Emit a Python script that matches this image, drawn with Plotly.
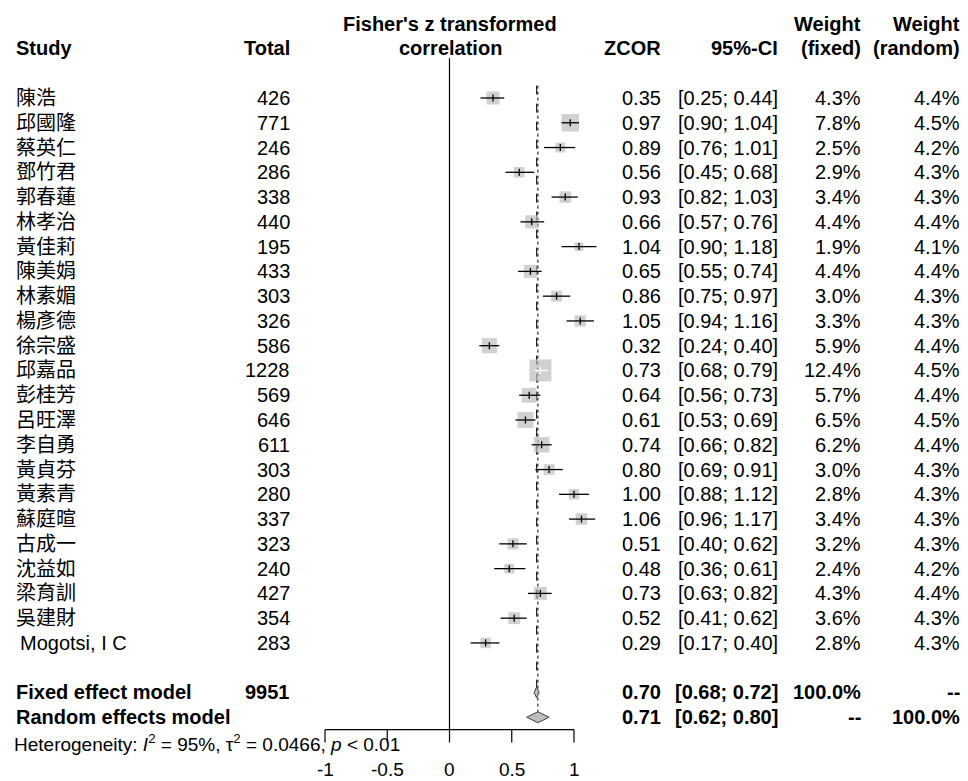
import plotly.graph_objects as go

# ---------------- data ----------------
studies = ["陳浩", "邱國隆", "蔡英仁", "鄧竹君", "郭春蓮", "林孝治", "黃佳莉", "陳美娟",
           "林素媚", "楊彥德", "徐宗盛", "邱嘉品", "彭桂芳", "呂旺澤", "李自勇", "黃貞芬",
           "黃素青", "蘇庭暄", "古成一", "沈益如", "梁育訓", "吳建財", "Mogotsi, I C"]
totals = [426, 771, 246, 286, 338, 440, 195, 433, 303, 326, 586, 1228, 569, 646, 611,
          303, 280, 337, 323, 240, 427, 354, 283]
zcor = [0.35, 0.97, 0.89, 0.56, 0.93, 0.66, 1.04, 0.65, 0.86, 1.05, 0.32, 0.73, 0.64,
        0.61, 0.74, 0.80, 1.00, 1.06, 0.51, 0.48, 0.73, 0.52, 0.29]
ci_lo = [0.25, 0.90, 0.76, 0.45, 0.82, 0.57, 0.90, 0.55, 0.75, 0.94, 0.24, 0.68, 0.56,
         0.53, 0.66, 0.69, 0.88, 0.96, 0.40, 0.36, 0.63, 0.41, 0.17]
ci_hi = [0.44, 1.04, 1.01, 0.68, 1.03, 0.76, 1.18, 0.74, 0.97, 1.16, 0.40, 0.79, 0.73,
         0.69, 0.82, 0.91, 1.12, 1.17, 0.62, 0.61, 0.82, 0.62, 0.40]
w_fixed = [4.3, 7.8, 2.5, 2.9, 3.4, 4.4, 1.9, 4.4, 3.0, 3.3, 5.9, 12.4, 5.7, 6.5, 6.2,
           3.0, 2.8, 3.4, 3.2, 2.4, 4.3, 3.6, 2.8]
w_random = [4.4, 4.5, 4.2, 4.3, 4.3, 4.4, 4.1, 4.4, 4.3, 4.3, 4.4, 4.5, 4.4, 4.5, 4.4,
            4.3, 4.3, 4.3, 4.3, 4.2, 4.4, 4.3, 4.3]

fixed_total = 9951
fixed_est, fixed_lo, fixed_hi = 0.70, 0.68, 0.72
random_est, random_lo, random_hi = 0.71, 0.62, 0.80
heterogeneity = "Heterogeneity: <i>I</i><sup>2</sup> = 95%, τ<sup>2</sup> = 0.0466, <i>p</i> &lt; 0.01"
tick_vals = [-1, -0.5, 0, 0.5, 1]
tick_text = ["-1", "-0.5", "0", "0.5", "1"]

# ---------------- layout constants ----------------
W, H = 968, 781
PX_M1, PX_P1 = 325, 574          # pixel positions of -1 and 1
ppu = (PX_P1 - PX_M1) / 2.0      # pixels per unit
ROW0_PX, ROW_H = 98, 24.77
x_range = [-1 - PX_M1 / ppu, -1 + (W - PX_M1) / ppu]
y_range = [(H - ROW0_PX) / ROW_H, (0 - ROW0_PX) / ROW_H]

FONT = "Liberation Sans, Arial, Noto Sans CJK TC, sans-serif"
FS = 20
GRAY = "#BEBEBE"
n = len(studies)
rows = list(range(n))
row_fixed, row_random, row_het = n + 1, n + 2, n + 3
row_axis = row_random + 0.5
row_ticklab = row_axis + 1.62

fig = go.Figure()

# squares
max_side = 22
sides = [max_side * (w / max(w_fixed)) ** 0.5 for w in w_fixed]
fig.add_trace(go.Scatter(x=zcor, y=rows, mode="markers",
                         marker=dict(symbol="square", size=sides, color=GRAY,
                                     line=dict(width=0)),
                         hoverinfo="skip", cliponaxis=False))

# CI lines (white if the interval lies inside the square)
tick_h = 3.5 / ROW_H
for color in ["black", "white"]:
    xs, ys = [], []
    for i in range(n):
        inside = (ci_hi[i] - ci_lo[i]) * ppu < 0.9 * sides[i]
        if (color == "white") != inside:
            continue
        xs += [ci_lo[i], ci_hi[i], None, zcor[i], zcor[i], None]
        ys += [i, i, None, i - tick_h, i + tick_h, None]
    fig.add_trace(go.Scatter(x=xs, y=ys, mode="lines",
                             line=dict(color=color, width=1.3),
                             hoverinfo="skip"))

# diamonds
dh = 5.5 / ROW_H
for est, lo, hi, r in [(fixed_est, fixed_lo, fixed_hi, row_fixed),
                       (random_est, random_lo, random_hi, row_random)]:
    fig.add_trace(go.Scatter(x=[lo, est, hi, est, lo], y=[r, r - dh, r, r + dh, r],
                             mode="lines", fill="toself", fillcolor=GRAY,
                             line=dict(color="#404040", width=1), hoverinfo="skip"))

# reference lines (below the marks)
shapes = []
shapes.append(dict(type="line", xref="x", yref="y", x0=0, x1=0, layer="below",
                   y0=-1.6, y1=row_axis, line=dict(color="black", width=1.2)))
shapes.append(dict(type="line", xref="x", yref="y", x0=fixed_est, x1=fixed_est, layer="below",
                   y0=-0.5, y1=row_fixed - dh, line=dict(color="black", width=1, dash="dash")))
shapes.append(dict(type="line", xref="x", yref="y", x0=random_est, x1=random_est, layer="below",
                   y0=-0.5, y1=row_random - dh, line=dict(color="black", width=1, dash="dot")))
# axis
shapes.append(dict(type="line", xref="x", yref="y", x0=tick_vals[0], x1=tick_vals[-1],
                   y0=row_axis, y1=row_axis, line=dict(color="black", width=1.2)))
for tv in tick_vals:
    shapes.append(dict(type="line", xref="x", yref="y", x0=tv, x1=tv,
                       y0=row_axis, y1=row_axis + 0.52, line=dict(color="black", width=1.2)))

ann = []


def txt(px, row, s, anchor="left", size=FS, bold=False):
    if bold:
        s = "<b>" + s + "</b>"
    ann.append(dict(x=px / W, y=row, xref="paper", yref="y", text=s, showarrow=False,
                    xanchor=anchor, yanchor="middle",
                    font=dict(family=FONT, size=size, color="black")))


X_STUDY, X_TOTAL, X_Z, X_CI, X_WF, X_WR = 14, 292, 663, 780, 863, 962

# headers
txt(X_STUDY, -2, "Study", bold=True)
txt(X_TOTAL, -2, "Total", "right", bold=True)
txt(450, -3, "Fisher's z transformed", "center", bold=True)
txt(450, -2, "correlation", "center", bold=True)
txt(X_Z, -2, "ZCOR", "right", bold=True)
txt(X_CI, -2, "95%-CI", "right", bold=True)
txt(X_WF, -3, "Weight", "right", bold=True)
txt(X_WF, -2, "(fixed)", "right", bold=True)
txt(X_WR, -3, "Weight", "right", bold=True)
txt(X_WR, -2, "(random)", "right", bold=True)

for i in range(n):
    txt(X_STUDY + (4 if studies[i].isascii() else 0), i, studies[i])
    txt(X_TOTAL, i, str(totals[i]), "right")
    txt(X_Z, i, f"{zcor[i]:.2f}", "right")
    txt(X_CI, i, f"[{ci_lo[i]:.2f}; {ci_hi[i]:.2f}]", "right")
    txt(X_WF, i, f"{w_fixed[i]:.1f}%", "right")
    txt(X_WR, i, f"{w_random[i]:.1f}%", "right")

txt(X_STUDY, row_fixed, "Fixed effect model", bold=True)
txt(X_TOTAL, row_fixed, str(fixed_total), "right", bold=True)
txt(X_Z, row_fixed, f"{fixed_est:.2f}", "right", bold=True)
txt(X_CI, row_fixed, f"[{fixed_lo:.2f}; {fixed_hi:.2f}]", "right", bold=True)
txt(X_WF, row_fixed, "100.0%", "right", bold=True)
txt(X_WR, row_fixed, "--", "right", bold=True)

txt(X_STUDY, row_random, "Random effects model", bold=True)
txt(X_Z, row_random, f"{random_est:.2f}", "right", bold=True)
txt(X_CI, row_random, f"[{random_lo:.2f}; {random_hi:.2f}]", "right", bold=True)
txt(X_WF, row_random, "--", "right", bold=True)
txt(X_WR, row_random, "100.0%", "right", bold=True)

txt(12, row_het + 0.05, heterogeneity, size=19)

for tv, tt in zip(tick_vals, tick_text):
    ann.append(dict(x=tv, y=row_ticklab, xref="x", yref="y", text=tt, showarrow=False,
                    xanchor="center", yanchor="middle",
                    font=dict(family=FONT, size=19, color="black")))

fig.update_layout(
    width=W, height=H, margin=dict(l=0, r=0, t=0, b=0),
    paper_bgcolor="white", plot_bgcolor="white", showlegend=False,
    xaxis=dict(range=x_range, domain=[0, 1], visible=False, fixedrange=True),
    yaxis=dict(range=y_range, domain=[0, 1], visible=False, fixedrange=True),
    shapes=shapes, annotations=ann,
)

fig.write_html("out.html")
